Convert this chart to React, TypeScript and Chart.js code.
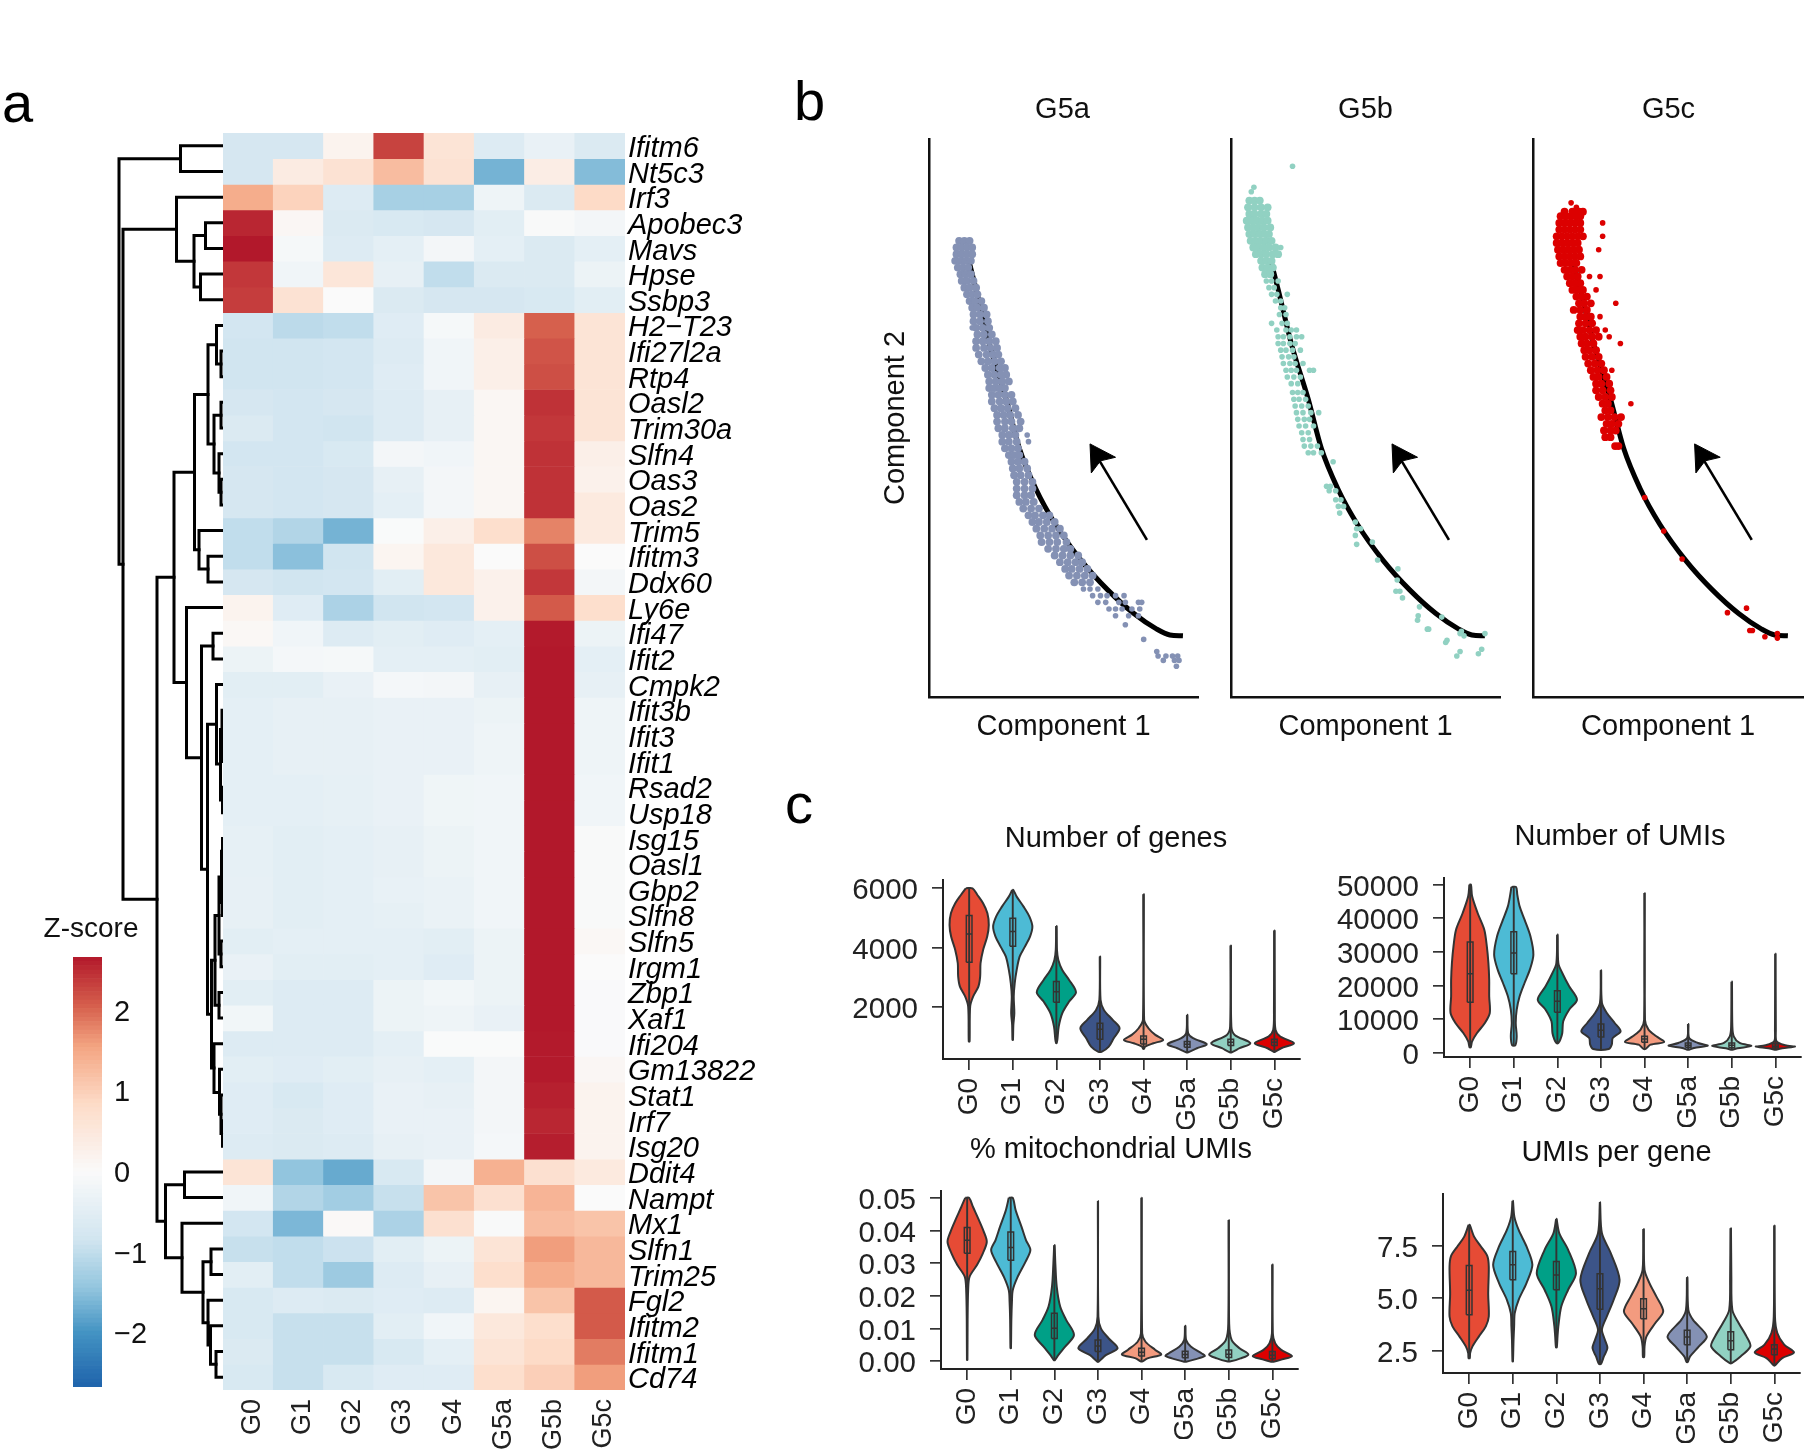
import React, { useEffect, useRef } from "react";
import Chart from "chart.js/auto";

const FONT = '"Liberation Sans", Arial, sans-serif';
Chart.defaults.font.family = FONT;

// ---------- shared categories ----------
const GROUPS = ["G0", "G1", "G2", "G3", "G4", "G5a", "G5b", "G5c"];
const GROUP_COLORS = ["#E64B35", "#4DBBD5", "#00A087", "#3C5488", "#F39B7F", "#8491B4", "#91D1C2", "#DC0000"];

// ---------- panel a: heatmap ----------
const GENES = ["Ifitm6","Nt5c3","Irf3","Apobec3","Mavs","Hpse","Ssbp3","H2−T23","Ifi27l2a","Rtp4","Oasl2","Trim30a","Slfn4","Oas3","Oas2","Trim5","Ifitm3","Ddx60","Ly6e","Ifi47","Ifit2","Cmpk2","Ifit3b","Ifit3","Ifit1","Rsad2","Usp18","Isg15","Oasl1","Gbp2","Slfn8","Slfn5","Irgm1","Zbp1","Xaf1","Ifi204","Gm13822","Stat1","Irf7","Isg20","Ddit4","Nampt","Mx1","Slfn1","Trim25","Fgl2","Ifitm2","Ifitm1","Cd74"];
const ZSCORES = [
[-0.75,-0.75,0.2,2.3,0.6,-0.6,-0.35,-0.65],
[-0.75,0.4,0.65,1.25,0.65,-1.65,0.35,-1.55],
[1.45,0.95,-0.6,-1.25,-1.25,-0.25,-0.65,0.85],
[2.55,0.1,-0.65,-0.7,-0.75,-0.5,-0.05,-0.15],
[2.67,-0.1,-0.6,-0.45,-0.15,-0.45,-0.65,-0.45],
[2.4,-0.2,0.55,-0.4,-1.0,-0.65,-0.65,-0.3],
[2.35,0.65,0.0,-0.65,-0.75,-0.75,-0.7,-0.5],
[-0.8,-1.05,-1.0,-0.55,-0.1,0.4,2.05,0.6],
[-0.85,-0.85,-0.8,-0.6,-0.2,0.3,2.15,0.6],
[-0.85,-0.85,-0.8,-0.55,-0.2,0.3,2.2,0.6],
[-0.75,-0.8,-0.75,-0.6,-0.4,0.12,2.45,0.6],
[-0.65,-0.8,-0.85,-0.6,-0.4,0.12,2.4,0.6],
[-0.8,-0.8,-0.7,-0.15,-0.2,0.12,2.45,0.3],
[-0.75,-0.8,-0.75,-0.4,-0.15,0.12,2.45,0.25],
[-0.75,-0.8,-0.75,-0.45,-0.15,0.12,2.45,0.45],
[-1.0,-1.15,-1.65,-0.02,0.3,0.75,1.8,0.45],
[-1.0,-1.5,-0.85,0.15,0.5,0.0,2.2,0.0],
[-0.75,-0.85,-0.8,-0.5,0.5,0.25,2.4,-0.15],
[0.2,-0.55,-1.2,-0.85,-0.8,0.25,2.1,0.75],
[0.08,-0.2,-0.6,-0.5,-0.55,-0.45,2.65,-0.3],
[-0.3,-0.12,-0.1,-0.45,-0.45,-0.5,2.67,-0.45],
[-0.5,-0.5,-0.35,-0.12,-0.15,-0.4,2.67,-0.4],
[-0.45,-0.4,-0.4,-0.35,-0.35,-0.3,2.67,-0.25],
[-0.45,-0.4,-0.4,-0.35,-0.35,-0.25,2.67,-0.25],
[-0.45,-0.4,-0.4,-0.35,-0.35,-0.25,2.67,-0.25],
[-0.45,-0.45,-0.42,-0.35,-0.22,-0.2,2.67,-0.2],
[-0.45,-0.45,-0.42,-0.35,-0.22,-0.2,2.67,-0.2],
[-0.42,-0.5,-0.45,-0.4,-0.3,-0.2,2.67,-0.05],
[-0.42,-0.5,-0.45,-0.4,-0.3,-0.2,2.67,-0.05],
[-0.4,-0.5,-0.45,-0.38,-0.33,-0.2,2.67,-0.05],
[-0.4,-0.5,-0.45,-0.42,-0.33,-0.2,2.67,-0.05],
[-0.5,-0.45,-0.45,-0.45,-0.5,-0.3,2.67,0.08],
[-0.35,-0.5,-0.5,-0.45,-0.55,-0.3,2.67,0.0],
[-0.5,-0.6,-0.6,-0.3,-0.18,-0.3,2.67,-0.03],
[-0.18,-0.6,-0.6,-0.3,-0.25,-0.35,2.67,-0.03],
[-0.6,-0.6,-0.6,-0.45,-0.02,-0.02,2.65,-0.03],
[-0.5,-0.55,-0.5,-0.4,-0.45,-0.15,2.65,0.1],
[-0.55,-0.7,-0.55,-0.35,-0.4,-0.15,2.6,0.2],
[-0.55,-0.65,-0.55,-0.35,-0.35,-0.15,2.55,0.2],
[-0.6,-0.65,-0.6,-0.4,-0.35,-0.12,2.62,0.2],
[0.6,-1.45,-1.75,-0.7,-0.15,1.4,0.7,0.45],
[-0.2,-1.15,-1.3,-0.95,1.15,0.7,1.35,0.0],
[-0.8,-1.6,0.05,-1.2,0.7,-0.05,1.25,1.15],
[-0.95,-1.0,-0.9,-0.5,-0.3,0.6,1.6,1.3],
[-0.5,-1.0,-1.35,-0.6,-0.4,0.75,1.45,1.3],
[-0.7,-0.6,-0.65,-0.55,-0.6,0.15,1.15,2.1],
[-0.7,-0.95,-0.95,-0.5,-0.2,0.5,0.75,2.1],
[-0.65,-0.95,-0.95,-0.7,-0.45,0.6,0.85,1.85],
[-0.7,-0.95,-0.7,-0.55,-0.55,0.75,1.0,1.6],
];
// dendrogram merges: [row of child 1, height of child 1, row of child 2, height of child 2, merge height]
const MERGES = [
[0.5,0,1.5,0,43.5],[3.5,0,4.5,0,18.5],[5.5,0,6.5,0,23.5],[4,18.5,6,23.5,30],[2.5,0,5,30,47.5],
[8.5,0,9.5,0,3],[7.5,0,9,3,7.5],[10.5,0,11.5,0,3],[13.5,0,14.5,0,3],[12.5,0,14,3,5],[11,3,13.25,5,10],
[8.25,7.5,12.125,10,16],[16.5,0,17.5,0,16],[15.5,0,17,16,25],[10.19,16,16.25,25,29.5],
[19.5,0,20.5,0,11],[23.5,0,24.5,0,1],[22.5,0,24,1,2],[25.5,0,26.5,0,1.5],[23.25,2,26,1.5,3.5],[21.5,0,24.6,3.5,7.5],
[27.5,0,28.5,0,1.5],[29.5,0,30.5,0,1.5],[28,1.5,30,1.5,2.5],[31.5,0,32.5,0,3],[29,2.5,32,3,5],[33.5,0,34.5,0,5],[30.5,5,34,5,9],
[38.5,0,39.5,0,1.5],[37.5,0,39,1.5,3],[36.5,0,38.25,3,4.5],[35.5,0,37.4,4.5,10],[32.25,9,36.45,10,12.5],
[23.05,7.5,34.35,12.5,16.5],[20,11,28.7,16.5,22.5],[18.5,0,24.35,22.5,37.5],[13.22,29.5,21.42,37.5,50],
[40.5,0,41.5,0,39.5],[43.5,0,44.5,0,13],[47.5,0,48.5,0,8],[46.5,0,48,8,13.5],[45.5,0,47.25,13.5,16],[44,13,46.375,16,21],
[42.5,0,45.19,21,42],[41,39.5,43.84,42,58.5],[17.32,50,42.42,58.5,67],[3.75,47.5,29.87,67,101],[1,43.5,16.81,101,105],
];
const Z_TICKS = [-2, -1, 0, 1, 2];
const Z_RANGE = 2.67;
const Z_STOPS: [number, number[]][] = [
  [-2.67,[31,99,171]],[-2,[67,147,195]],[-1.45,[146,197,222]],[-0.85,[209,229,240]],[0,[250,250,250]],
  [0.85,[253,219,199]],[1.55,[244,165,130]],[2.05,[214,96,77]],[2.67,[178,24,43]],
];
function zColor(z: number) {
  for (let i = 1; i < Z_STOPS.length; i++) {
    if (z <= Z_STOPS[i][0]) {
      const [a, ca] = Z_STOPS[i - 1];
      const [b, cb] = Z_STOPS[i];
      const t = Math.max(0, (z - a) / (b - a));
      return `rgb(${ca.map((c, k) => Math.round(c + (cb[k] - c) * t)).join(",")})`;
    }
  }
  return "rgb(178,24,43)";
}

// ---------- panel b: trajectories; rows are [component 2, component 1 values...] ----------
const CURVE_X = [61,73,93,118,138,163,193,233,273,313,348,368,388];
const CURVE_Y = [977,907,787,667,557,467,387,305,240,187,152,139,137];
const ARROW_SHAFT = [[333,352],[256,540]];
const ARROW_HEAD = [[246,567],[285,537],[262,529],[248,502],[246,567]];
const G5A_ROWS = [
[1022,46,54,62],[1007,42,50,58,66],[992,42,50,58,66],[977,40,48,56,64],[962,44,52,60],[947,48,56,64],[932,50,58,68],[917,54,62,72],
[902,58,66,74],[887,62,70,80],[872,66,74,84],[857,68,78,88],[842,68,78,90],[827,72,82,92],[812,74,84,96],[797,72,82,92,102],
[782,72,84,94,104],[767,76,88,98,106],[752,80,90,100,110],[737,86,96,108,116],[722,90,100,110,118],[707,92,102,112,122],[692,92,100,108,116],
[677,96,106,116,126],[662,96,108,118,128],[647,100,110,120,132],[632,104,114,124,136],[617,104,116,126,140],[602,106,116,128,138],
[587,112,122,132],[572,112,122,134],[557,116,126,136],[542,122,130,138],[527,126,136,146],[512,128,138,150],[497,130,140,152],
[482,134,146,158],[467,134,146,158],[452,134,146,156],[437,138,148,160],[422,144,156,168],[407,152,162,174,184],[392,158,168,180,192],
[377,164,176,188,200],[362,170,182,194,206],[347,172,184,196,210],[332,182,194,206,216],[317,192,204,216,228],[302,200,212,224,234],
[287,208,218,230,242],[272,214,226,238,250],[257,222,234,246],
[242,236,246,258],[227,250,262,272,285,298],[212,258,270,290,300,320,325],
[197,275,285,295,310,322],[182,285,305,320],[162,300],[129,328],[102,348],[92,350,362,372,380],[82,358,375,382],[69,378],
[827,66],[587,150],[572,152],
];
const G5B_ROWS = [
[1189,94],[1142,35],[1132,31],[1112,28,36,44],[1097,26,36,46,56],[1082,28,36,46,54],[1067,24,32,40,48,56],[1052,26,34,42,50,60],
[1037,28,36,44,52,58],[1022,30,38,46,54,62],[1007,34,42,50,58,68],[992,38,46,54,64,72],[977,46,54,62],[962,48,56,64],[947,52,60],
[932,54,62],[917,58,66],[902,62,70],[887,68,76],[872,76,82],[857,74,84],[837,78,86],[822,84,92],[807,72,80,90,100],
[792,72,80,90,98],[777,76,84,94],[762,78,88,96],[747,80,90,98],[732,84,92,100],[717,86,96,106],[702,92,102],[682,94,102,110],
[667,96,104,114],[652,98,108,118],[637,100,110,122],[622,102,112,120],[607,104,114,126],[592,108,118],[577,110,120],[562,112,122,132],
[547,118,126,138],
[1007,76],[992,72],[932,72],[902,86],[837,62],[822,70],[822,100],[807,108],[777,106],[747,110],[732,120],[732,126],[637,134],
[527,156],[472,146,152],[462,150,160],[442,160,168],[427,164,172],[412,166],[392,190],[377,192,198],[362,190],[347,216],
[342,192],[307,224],[287,255],[262,254],[237,252,258],[222,262],[202,288],[182,286],[172,285],[179,322],[152,302,300],[147,352],[142,350,388],
[137,356],[127,330],[122,328],[102,350],[97,378],[92,345],[107,383],
];
const G5C_ROWS = [
[1107,58],[1097,66],[1087,48,60,70,76],[1077,42,50,58,66,72],[1062,40,48,56,64,72],[1047,40,48,56,64,72],[1032,36,44,52,60,68,76],
[1017,36,44,52,60,68],[1002,38,46,54,62,70],[987,40,48,56,64,72],[972,42,50,58,66],[957,48,56,64,74],[942,52,60,68],[927,56,64,72],
[912,60,68,76],[897,66,74,82],[882,70,78,88],[867,62,72,82],[852,72,80,88],[837,70,80,90],[822,68,76,86,96],[807,72,80,90,100],
[792,74,82,92],[777,78,86,96],[762,80,90,100],[747,84,94,104],[732,88,98,108],[717,92,100,112],[702,96,104,116],[687,96,106,118],
[672,100,110,120],[657,106,114],[642,110,118],[627,104,114,124,134],[612,112,120,130],[597,108,118,126],[582,110,118],
[1062,106],[1032,106],[1002,100],[942,86],[942,102],[912,96],[882,126],[852,102],[822,110],[807,116],[792,133],[732,120],[657,149],
[562,125,130],[447,170],[372,199],[309,227],[199,325],[189,296],[149,330,334],[135,353],[142,372],[132,372],
];

// ---------- panel c: violins; each profile is [value, relative width] from top to bottom, box is [q1, median, q3] ----------
const GENES_PROFILES = [
[[6000,.17],[5775,.42],[5494,.71],[5156,.93],[4763,1],[4369,.92],[3919,.71],[3469,.58],[3019,.56],[2681,.47],[2344,.2],[2006,.05],[825,.02]],
[[5944,.03],[5719,.2],[5381,.55],[5044,.85],[4706,1],[4369,.88],[4031,.62],[3694,.35],[3244,.2],[2794,.1],[2344,.05],[1781,.08],[1388,.03],[881,.01]],
[[4729,.01],[3919,.03],[3581,.1],[3244,.3],[2906,.65],[2490,1],[2175,.65],[1781,.3],[1331,.12],[881,.05],[769,.01]],
[[3694,.01],[2231,.03],[1894,.2],[1556,.65],[1275,1],[938,.7],[656,.45],[488,.1]],
[[5798,.01],[1556,.03],[1275,.25],[1050,.6],[881,1],[769,.5],[656,.08],[578,.02]],
[[1725,.01],[1106,.05],[938,.3],[736,1],[600,.5],[465,.05]],
[[4065,.01],[1331,.03],[1050,.2],[769,1],[600,.45],[465,.05]],
[[4571,.01],[1894,.02],[1219,.06],[994,.3],[769,1],[600,.35],[476,.03]],
];
const GENES_BOXES = [[3500,4460,5080],[4040,4540,4990],[2150,2510,2850],[905,1240,1444],[746,900,1015],[634,736,825],[690,800,905],[690,800,905]];
const UMI_PROFILES = [
[[50000,.04],[46530,.1],[41580,.38],[36630,.72],[31680,.85],[26730,.93],[21780,.97],[16830,.97],[11880,1],[8910,.75],[5940,.35],[3465,.1],[1683,.03]],
[[49300,.12],[47025,.18],[43560,.3],[39600,.55],[34650,.85],[29205,1],[24750,.82],[20790,.55],[16830,.3],[12870,.15],[8910,.1],[4950,.15],[2277,.08]],
[[35150,.01],[26730,.05],[23760,.25],[19800,.6],[15840,1],[12870,.6],[9405,.3],[5940,.25],[3960,.15],[2970,.05]],
[[24550,.01],[14850,.05],[11880,.3],[8910,.7],[6435,1],[4455,.6],[2475,.55],[1188,.4]],
[[47520,.005],[9900,.02],[6930,.2],[4950,.6],[3267,1],[2475,.3],[1188,.05]],
[[8613,.01],[4455,.05],[2970,.5],[2178,1],[1485,.3],[990,.05]],
[[21186,.01],[7920,.03],[4950,.1],[2970,.4],[2079,1],[1386,.3],[990,.03]],
[[29500,.005],[6930,.02],[3465,.06],[2277,.5],[1881,1],[1386,.35],[990,.03]],
];
const UMI_BOXES = [[15050,23560,32970],[23560,29700,36040],[12080,15345,18510],[4750,6730,8610],[3170,4160,4950],[1680,2277,2970],[1580,2277,2970],[1485,1980,2770]];
const MITO_PROFILES = [
[[.05,.1],[.0472,.3],[.0432,.6],[.0396,.85],[.0365,1],[.033,.8],[.0294,.5],[.0258,.12],[.0217,.05],[.0126,.02],[.0003,.01]],
[[.05,.1],[.0462,.25],[.0411,.55],[.037,.78],[.034,1],[.0304,.75],[.0258,.35],[.0217,.1],[.0182,.06],[.0126,.03],[.0039,.01]],
[[.0355,.01],[.0299,.05],[.0228,.12],[.0166,.3],[.0126,.6],[.008,1],[.0044,.55],[.0018,.2],[.0003,.03]],
[[.049,.005],[.0136,.02],[.01,.15],[.0069,.55],[.0039,1],[.0018,.4],[-.0002,.03]],
[[.05,.005],[.0085,.03],[.0059,.2],[.0034,.7],[.002,1],[.0008,.3],[-.0001,.05]],
[[.0108,.01],[.0064,.05],[.0044,.3],[.0023,.85],[.0015,1],[.0005,.5],[-.0002,.05]],
[[.0432,.005],[.0115,.02],[.0064,.15],[.0039,.55],[.002,1],[.0008,.6],[-.0001,.1]],
[[.0296,.005],[.0085,.02],[.0054,.15],[.0034,.45],[.0015,1],[.0005,.5],[-.0002,.06]],
];
const MITO_BOXES = [[.033,.037,.0409],[.0309,.0348,.0395],[.0069,.01,.0146],[.0029,.0046,.0064],[.0015,.0027,.0039],[.001,.002,.003],[.0011,.0021,.0034],[.0007,.0018,.0029]];
const PER_GENE_PROFILES = [
[[8.5,.03],[7.94,.25],[7.47,.6],[7,.93],[6.5,1],[5.2,.97],[4.12,1],[3.65,.85],[3.17,.5],[2.69,.17],[2.37,.05],[2.13,.03]],
[[9.65,.01],[8.9,.08],[8.26,.3],[7.47,.7],[6.59,1],[5.72,.7],[4.92,.3],[4.28,.1],[3.65,.07],[3.01,.04],[1.97,.01]],
[[8.79,.01],[8.1,.15],[7.31,.6],[6.19,1],[5.4,.6],[4.6,.25],[3.65,.1],[3.17,.06],[2.64,.02]],
[[9.59,.005],[8.1,.1],[7.15,.55],[5.88,1],[4.92,.7],[4.12,.35],[3.49,.1],[3.01,.25],[2.61,.38],[2.21,.2],[1.85,.05]],
[[8.3,.01],[6.35,.05],[5.72,.3],[5.08,.65],[4.36,1],[3.81,.6],[3.17,.15],[2.69,.05],[2.18,.03]],
[[6,.01],[4.44,.06],[3.96,.3],[3.17,1],[2.69,.6],[2.21,.15],[1.94,.03]],
[[8.34,.01],[6.03,.03],[4.44,.08],[3.81,.4],[3.17,.8],[2.69,1],[2.21,.5],[1.89,.05]],
[[8.47,.005],[4.12,.03],[3.33,.15],[2.77,.5],[2.4,1],[2.13,.4],[1.77,.02]],
];
const PER_GENE_BOXES = [[4.2,5.37,6.56],[5.88,6.59,7.23],[5.4,6.11,6.75],[4.47,5.45,6.16],[4.01,4.49,4.97],[2.77,3.14,3.46],[2.53,2.96,3.39],[2.29,2.56,2.77]];
const GENES_TICKS = [2000, 4000, 6000];
const UMI_TICKS = [0, 10000, 20000, 30000, 40000, 50000];
const MITO_TICKS = [0, 0.01, 0.02, 0.03, 0.04, 0.05];
const PER_GENE_TICKS = [2.5, 5, 7.5];

// ---------- helpers ----------
const INK = "#222222";
const fixScale = (size: { w?: number; h?: number }) => (s: any) => {
  if (size.w !== undefined) s.width = size.w;
  if (size.h !== undefined) s.height = size.h;
  s.paddingTop = s.paddingBottom = s.paddingLeft = s.paddingRight = 0;
};
// fills a closed outline with the path of the dataset's own line element
const closedFill = {
  id: "closedFill",
  beforeDatasetDraw(chart: any, args: any) {
    const ds = chart.data.datasets[args.index];
    if (!ds.closedFill) return;
    const line = args.meta.dataset;
    const ctx = chart.ctx;
    line.updateControlPoints(chart.chartArea, "x");
    ctx.save();
    ctx.beginPath();
    line.path(ctx);
    ctx.closePath();
    ctx.fillStyle = ds.closedFill;
    ctx.fill();
    ctx.restore();
  },
};
const basePlugins = { legend: { display: false }, tooltip: { enabled: false } };
function titleLayout(size: number, baseline: number, plotTop: number) {
  const lh = size * 1.2;
  const top = Math.round(baseline - 0.3465 * size - lh / 2);
  return { top, pad: plotTop - top - lh };
}
const lineDs = (data: any[], color: string, width: number, extra: any = {}) => ({
  data, showLine: true, borderColor: color, borderWidth: width, pointRadius: 0, fill: false, ...extra,
});

type Spec = { left: number; top: number; width: number; height: number; config: any };

// ---------- chart specs ----------
function dendrogramSpec(): Spec {
  const datasets = MERGES.map(([y1, h1, y2, h2, h]) =>
    lineDs([{ x: h1, y: y1 }, { x: h, y: y1 }, { x: h, y: y2 }, { x: h2, y: y2 }], "#000", 3, { borderCapStyle: "square" })
  );
  return {
    left: 113, top: 133, width: 111, height: 1257,
    config: {
      type: "scatter",
      data: { datasets },
      options: {
        animation: false, responsive: false, events: [],
        plugins: basePlugins,
        scales: {
          x: { type: "linear", display: false, reverse: true, min: 0, max: 111 },
          y: { type: "linear", display: false, reverse: true, min: 0, max: 49 },
        },
      },
    },
  };
}
function heatmapSpec(): Spec {
  const left = 223, right = 780, plotW = 402;
  const datasets = GENES.map((g, r) => ({
    label: g,
    data: GROUPS.map(() => [r, r + 1]),
    backgroundColor: ZSCORES[r].map(zColor),
    borderWidth: 0,
    barPercentage: 1,
    categoryPercentage: 1,
    grouped: false,
  }));
  return {
    left, top: 133, width: right - left, height: 1317,
    config: {
      type: "bar",
      data: { labels: GROUPS, datasets },
      options: {
        animation: false, responsive: false, events: [],
        plugins: basePlugins,
        scales: {
          x: {
            type: "category",
            grid: { display: false, drawTicks: false }, border: { display: false },
            ticks: { color: INK, font: { size: 27 }, minRotation: 90, maxRotation: 90, padding: 9, autoSkip: false, labelOffset: 4 },
            afterFit: fixScale({ h: 60 }),
          },
          y: {
            type: "linear", position: "right", reverse: true, min: 0, max: 49,
            grid: { display: false, drawTicks: false }, border: { display: false },
            afterBuildTicks: (s: any) => { s.ticks = GENES.map((_, i) => ({ value: i + 0.5 })); },
            ticks: {
              color: "#000", font: { size: 29, style: "italic" }, padding: 3, autoSkip: false, labelOffset: 3,
              callback: (v: number) => GENES[Math.floor(v)],
            },
            afterFit: fixScale({ w: right - left - plotW }),
          },
        },
      },
    },
  };
}
function colorbarSpec(): Spec {
  const levels = Array.from({ length: 100 }, (_, i) => -Z_RANGE + (i * 2 * Z_RANGE) / 100);
  const step = (2 * Z_RANGE) / 100;
  const datasets = levels.map((lo) => ({
    data: [[lo, lo + step]],
    backgroundColor: zColor(lo + step / 2),
    borderWidth: 0, barPercentage: 1, categoryPercentage: 1, grouped: false,
  }));
  const L = 32, R = 150, size = 28;
  const t = titleLayout(size, 939, 957);
  return {
    left: L, top: t.top, width: R - L, height: 1387 - t.top,
    config: {
      type: "bar",
      data: { labels: ["Z"], datasets },
      options: {
        animation: false, responsive: false, events: [],
        plugins: {
          ...basePlugins,
          title: { display: true, text: "Z-score", color: "#111", font: { size, lineHeight: 1.2, weight: "normal" }, padding: { top: 0, bottom: t.pad } },
        },
        scales: {
          x: { type: "category", display: false },
          y: {
            type: "linear", position: "right", min: -Z_RANGE, max: Z_RANGE,
            grid: { display: false, drawTicks: false }, border: { display: false },
            afterBuildTicks: (s: any) => { s.ticks = Z_TICKS.map((v) => ({ value: v })); },
            ticks: { color: "#111", font: { size: 29 }, padding: 12, labelOffset: 2, autoSkip: false, callback: (v: number) => (v < 0 ? "−" + Math.abs(v) : String(v)) },
            afterFit: fixScale({ w: R - 102 }),
          },
          y0: {
            type: "linear", position: "left", display: true,
            grid: { display: false }, border: { display: false }, ticks: { display: false },
            afterFit: fixScale({ w: 73 - L }),
          },
        },
      },
    },
  };
}
function trajectorySpec(name: string, rows: number[][], solidAbove: number, color: string, plotLeft: number, plotRight: number, center: number, yTitle: boolean): Spec {
  const size = 29, plotTop = 139, plotBottom = 697, xh = 60;
  const L = yTitle ? plotLeft - 50 : plotLeft - 4;
  const R = Math.round(2 * center - L);
  const t = titleLayout(size, 120, plotTop);
  // rows of the packed ribbon overlap into a solid band; lone cells stay small
  const band = rows.filter((r) => r.length > 2 && r[0] >= solidAbove);
  const loose = rows.filter((r) => !(r.length > 2 && r[0] >= solidAbove));
  const toPts = (rs: number[][]) => rs.flatMap(([y, ...xs]) => xs.map((x) => ({ x, y })));
  const curve = CURVE_X.map((x, i) => ({ x, y: CURVE_Y[i] }));
  const datasets = [
    { data: toPts(band), backgroundColor: color, borderWidth: 0, pointRadius: 3.9, showLine: false },
    { data: toPts(loose), backgroundColor: color, borderWidth: 0, pointRadius: 2.8, showLine: false },
    lineDs(curve, "#000", 5, { cubicInterpolationMode: "monotone" }),
    lineDs(ARROW_SHAFT.map(([x, y]) => ({ x, y })), "#000", 2.6),
    lineDs(ARROW_HEAD.map(([x, y]) => ({ x, y })), "#000", 1, { closedFill: "#000" }),
  ];
  const axisBorder = { display: true, color: "#111", width: 2.5 };
  return {
    left: L, top: t.top, width: R - L, height: plotBottom + xh - t.top,
    config: {
      type: "scatter",
      data: { datasets },
      plugins: [closedFill],
      options: {
        animation: false, responsive: false, events: [],
        plugins: {
          ...basePlugins,
          title: { display: true, text: name, color: "#111", font: { size, lineHeight: 1.2, weight: "normal" }, padding: { top: 0, bottom: t.pad } },
        },
        scales: {
          x: {
            type: "linear", min: 0, max: 411,
            grid: { display: false }, border: axisBorder, ticks: { display: false },
            title: { display: true, text: "Component 1", color: "#111", font: { size: 29, lineHeight: 1.2 }, padding: { top: 0, bottom: 13 } },
            afterFit: fixScale({ h: xh }),
          },
          y: {
            type: "linear", min: 0, max: 1250,
            grid: { display: false }, border: axisBorder, ticks: { display: false },
            title: { display: yTitle, text: "Component 2", color: "#111", font: { size: 29, lineHeight: 1.2 }, padding: { top: 0, bottom: 3 } },
            afterFit: fixScale({ w: plotLeft - L }),
          },
          yPad: {
            type: "linear", position: "right", display: true,
            grid: { display: false }, border: { display: false }, ticks: { display: false },
            afterFit: fixScale({ w: R - plotRight }),
          },
        },
      },
    },
  };
}
function violinSpec(
  title: string, profiles: number[][][], boxes: number[][], yTicks: number[], decimals: number,
  plot: { left: number; right: number; top: number; bottom: number; yMin: number; yMax: number; center: number; baseline: number }
): Spec {
  const size = 29, xh = 70, yw = 112, HALF = 0.45, BOX = 0.065;
  const L = plot.left - yw;
  const R = Math.round(2 * plot.center - L);
  const t = titleLayout(size, plot.baseline, plot.top);
  const datasets: any[] = [];
  profiles.forEach((p, i) => {
    const [q1, med, q3] = boxes[i];
    datasets.push(
      lineDs(
        [[i - BOX, q1], [i + BOX, q1], [i + BOX, q3], [i - BOX, q3], [i - BOX, q1], [i - BOX, med], [i + BOX, med]].map(([x, y]) => ({ x, y })),
        "#333333", 1.5
      )
    );
    datasets.push(lineDs([{ x: i, y: p[0][0] }, { x: i, y: p[p.length - 1][0] }], "#333333", 1.9));
    const leftSide = p.map(([v, w]) => ({ x: i - w * HALF, y: v }));
    const rightSide = [...p].reverse().map(([v, w]) => ({ x: i + w * HALF, y: v }));
    datasets.push(lineDs([...leftSide, ...rightSide, leftSide[0]], "#333333", 2, { tension: 0.3, closedFill: GROUP_COLORS[i] }));
  });
  const grid = { display: true, drawOnChartArea: false, drawTicks: true, tickLength: 11, color: "#333", lineWidth: 1.7 };
  const border = { display: true, color: "#222", width: 2 };
  return {
    left: L, top: t.top, width: R - L, height: plot.bottom + xh - t.top,
    config: {
      type: "scatter",
      data: { datasets },
      plugins: [closedFill],
      options: {
        animation: false, responsive: false, events: [],
        plugins: {
          ...basePlugins,
          title: { display: true, text: title, color: "#111", font: { size, lineHeight: 1.2, weight: "normal" }, padding: { top: 0, bottom: t.pad } },
        },
        scales: {
          x: {
            type: "linear", min: -0.6, max: -0.6 + (plot.right - plot.left) / 43.6,
            grid, border,
            afterBuildTicks: (s: any) => { s.ticks = GROUPS.map((_, i) => ({ value: i })); },
            ticks: { color: INK, font: { size: 28 }, minRotation: 90, maxRotation: 90, padding: 8, autoSkip: false, labelOffset: 0, callback: (v: number) => GROUPS[v] },
            afterFit: fixScale({ h: xh }),
          },
          y: {
            type: "linear", min: plot.yMin, max: plot.yMax,
            grid, border,
            afterBuildTicks: (s: any) => { s.ticks = yTicks.map((v) => ({ value: v })); },
            ticks: { color: INK, font: { size: 29.5 }, padding: 14, labelOffset: 3, autoSkip: false, callback: (v: number) => v.toFixed(decimals) },
            afterFit: fixScale({ w: yw }),
          },
          yPad: {
            type: "linear", position: "right", display: true,
            grid: { display: false }, border: { display: false }, ticks: { display: false },
            afterFit: fixScale({ w: R - plot.right }),
          },
        },
      },
    },
  };
}

const SPECS: Spec[] = [
  dendrogramSpec(),
  heatmapSpec(),
  colorbarSpec(),
  trajectorySpec("G5a", G5A_ROWS, 250, "#8491B4", 929, 1198, 1062.6, true),
  trajectorySpec("G5b", G5B_ROWS, 940, "#91D1C2", 1231, 1501, 1365.6, false),
  trajectorySpec("G5c", G5C_ROWS, 560, "#DC0000", 1533, 1803, 1668.5, false),
  violinSpec("Number of genes", GENES_PROFILES, GENES_BOXES, GENES_TICKS, 0, { left: 943, right: 1300, top: 880, bottom: 1059, yMin: 236, yMax: 6280, center: 1116, baseline: 849 }),
  violinSpec("Number of UMIs", UMI_PROFILES, UMI_BOXES, UMI_TICKS, 0, { left: 1444, right: 1801, top: 878, bottom: 1057, yMin: -1190, yMax: 51980, center: 1620, baseline: 847 }),
  violinSpec("% mitochondrial UMIs", MITO_PROFILES, MITO_BOXES, MITO_TICKS, 2, { left: 941, right: 1298, top: 1191, bottom: 1369, yMin: -0.00245, yMax: 0.0521, center: 1111, baseline: 1160 }),
  violinSpec("UMIs per gene", PER_GENE_PROFILES, PER_GENE_BOXES, PER_GENE_TICKS, 1, { left: 1443, right: 1800, top: 1194, bottom: 1373, yMin: 1.417, yMax: 9.98, center: 1616.7, baseline: 1163 }),
];

function PanelCanvas({ spec }: { spec: Spec }) {
  const ref = useRef<HTMLCanvasElement>(null);
  useEffect(() => {
    const chart = new Chart(ref.current as HTMLCanvasElement, spec.config);
    return () => chart.destroy();
  }, [spec]);
  return (
    <canvas
      ref={ref}
      width={spec.width}
      height={spec.height}
      style={{ position: "absolute", left: spec.left, top: spec.top, width: spec.width, height: spec.height }}
    />
  );
}

const LETTERS = [
  { t: "a", x: 2, base: 122 },
  { t: "b", x: 794, base: 120 },
  { t: "c", x: 785, base: 823 },
];

export default function App() {
  return (
    <div style={{ position: "absolute", left: 0, top: 0, width: 1808, height: 1450, overflow: "hidden", background: "#fff" }}>
      {SPECS.map((s, i) => (
        <PanelCanvas key={i} spec={s} />
      ))}
      {LETTERS.map((l) => (
        <div
          key={l.t}
          style={{ position: "absolute", left: l.x, top: l.base - 47.4, fontFamily: FONT, fontSize: 56, lineHeight: "56px", color: "#000" }}
        >
          {l.t}
        </div>
      ))}
    </div>
  );
}
